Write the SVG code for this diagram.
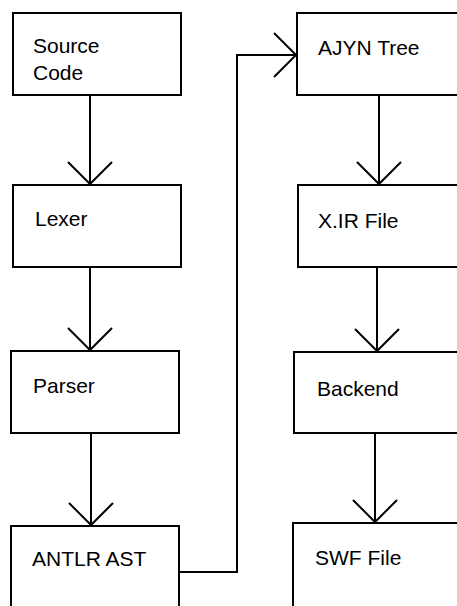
<svg xmlns="http://www.w3.org/2000/svg" width="457" height="606" viewBox="0 0 457 606">
<style>
.box{fill:#fff;stroke:#000;stroke-width:2}
.lbl{font-family:"Liberation Sans",Arial,sans-serif;font-size:21px;fill:#000}
.edge{fill:none;stroke:#000;stroke-width:2}
</style>
<defs>
<marker id="open" markerUnits="userSpaceOnUse" markerWidth="60" markerHeight="60" viewBox="-30 -30 60 60" refX="0" refY="0" orient="auto">
<path d="M-22,-22 L0,0 L-22,22" fill="none" stroke="#000" stroke-width="2"/>
</marker>
</defs>
<rect width="457" height="606" fill="#fff"/>
<g id="source-code"><rect class="box" x="13" y="13" width="168" height="82"/><text class="lbl" x="33" y="53">Source</text><text class="lbl" x="33" y="80">Code</text></g>
<g id="lexer"><rect class="box" x="13" y="185" width="168" height="82"/><text class="lbl" x="35" y="226">Lexer</text></g>
<g id="parser"><rect class="box" x="11" y="351" width="168" height="82"/><text class="lbl" x="33" y="393">Parser</text></g>
<g id="antlr-ast"><rect class="box" x="11" y="526" width="168" height="90"/><text class="lbl" x="32" y="566">ANTLR AST</text></g>
<g id="ajyn-tree"><rect class="box" x="297" y="13" width="180" height="82"/><text class="lbl" x="318" y="55">AJYN Tree</text></g>
<g id="xir-file"><rect class="box" x="298" y="185" width="180" height="82"/><text class="lbl" x="318" y="228">X.IR File</text></g>
<g id="backend"><rect class="box" x="294" y="352" width="180" height="81"/><text class="lbl" x="317" y="396">Backend</text></g>
<g id="swf-file"><rect class="box" x="293" y="523" width="180" height="93"/><text class="lbl" x="315" y="565">SWF File</text></g>
<g id="connectors">
<path class="edge" d="M90,95 L90,184" marker-end="url(#open)"/>
<path class="edge" d="M90,267 L90,350" marker-end="url(#open)"/>
<path class="edge" d="M91,433 L91,525" marker-end="url(#open)"/>
<path class="edge" d="M179,572 L237,572 L237,55 L296,55" marker-end="url(#open)"/>
<path class="edge" d="M379,95 L379,184" marker-end="url(#open)"/>
<path class="edge" d="M377,267 L377,351" marker-end="url(#open)"/>
<path class="edge" d="M375,433 L375,522" marker-end="url(#open)"/>
</g>
</svg>
